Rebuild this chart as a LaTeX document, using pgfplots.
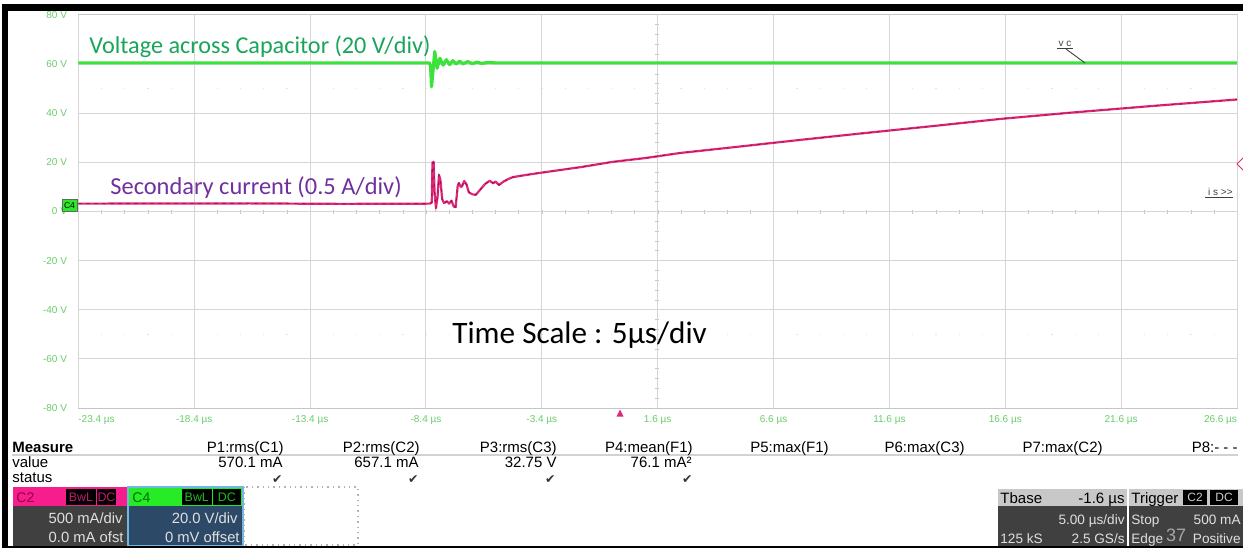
\documentclass[border=0pt]{standalone}
\usepackage{pgfplots}
\usepackage{pgfplotstable}
\pgfplotsset{compat=1.18}
\usepackage{fontspec}
\setmainfont{Liberation Sans}
\newfontfamily\calfont{Carlito}
\newfontfamily\djv{DejaVu Sans}
\definecolor{vgreen}{RGB}{60,225,60}
\definecolor{vtext}{RGB}{25,165,90}
\definecolor{itext}{RGB}{112,48,160}
\definecolor{ipink}{RGB}{222,40,120}
\definecolor{idark}{RGB}{130,10,55}
\definecolor{ticklab}{RGB}{105,205,105}
\definecolor{gridc}{RGB}{214,214,214}
\definecolor{c2pink}{RGB}{245,30,140}
\definecolor{c2dark}{RGB}{150,0,70}
\definecolor{c4green}{RGB}{40,235,40}
\definecolor{c4dark}{RGB}{0,110,0}
\definecolor{boxgray}{RGB}{64,64,64}
\definecolor{c4blue}{RGB}{44,74,104}
\definecolor{c4edge}{RGB}{110,185,225}
\definecolor{hdrgray}{RGB}{200,200,200}
\newcommand{\fs}[1]{\fontsize{#1}{#1}\selectfont}

\pgfplotstableread{
t v
-23.4 60.5
-8.25 60.5
-8.20 59.0
-8.16 50.8
-8.09 58.0
-8.02 65.1
-7.92 58.3
-7.80 62.4
-7.66 59.6
-7.52 61.8
-7.38 59.8
-7.24 61.4
-7.10 60.0
-6.95 61.2
-6.80 60.1
-6.60 61.0
-6.40 60.2
-6.20 60.8
-6.00 60.3
-5.70 60.7
-5.40 60.5
26.6 60.5
}\voltdata

\pgfplotstableread{
t i
-23.4 3.2
-16 3.3
-12 3.1
-8.25 3.2
-8.15 3.6
-8.12 20.0
-8.10 18.5
-8.07 20.3
-8.03 8.0
-7.97 1.4
-7.90 6.0
-7.84 14.9
-7.78 13.0
-7.70 5.0
-7.62 3.4
-7.50 4.2
-7.40 3.2
-7.30 4.4
-7.20 2.0
-7.12 1.8
-7.03 10.5
-6.98 11.6
-6.90 10.0
-6.85 10.2
-6.75 12.4
-6.65 11.0
-6.55 7.8
-6.40 7.0
-6.25 6.8
-6.05 9.0
-5.85 11.2
-5.65 12.5
-5.50 11.5
-5.40 12.2
-5.25 10.8
-5.05 12.2
-4.85 13.2
-4.65 14.0
-4.20 14.7
-3.50 15.7
-2.60 16.9
-1.70 18.1
-0.35 20.2
1.10 21.8
2.55 23.8
5.00 26.3
7.70 29.1
10.50 31.9
13.50 34.8
16.40 37.7
19.50 40.3
23.00 43.0
26.60 45.6
}\currdata

\begin{document}
\begin{tikzpicture}
\useasboundingbox (0,0) rectangle (621.5pt,-274pt);
\fill[white] (0,0) rectangle (621.5pt,-274pt);
\begin{scope}[x=0.5pt,y=-0.5pt]
  % graticule ticks on centre lines
  \foreach \k in {1,...,49} {
    \draw[gray!45, line width=0.4pt] ({78.4+\k*23.18},209.5) -- ({78.4+\k*23.18},213.5);
    \fill[gray!22] ({78.4+\k*23.18-0.6},88.2) rectangle ({78.4+\k*23.18+0.6},89.4);
    \fill[gray!22] ({78.4+\k*23.18-0.6},333.8) rectangle ({78.4+\k*23.18+0.6},335.0);
  }
  \foreach \k in {1,...,39} {
    \draw[gray!45, line width=0.4pt] (655,{15+\k*9.825}) -- (659,{15+\k*9.825});
  }
\end{scope}
\begin{axis}[
  at={(39.2pt,-204pt)}, anchor=south west, scale only axis,
  width=579.3pt, height=196.5pt,
  xmin=-23.4, xmax=26.6, ymin=-80, ymax=80,
  axis line style={draw=gray!45, line width=0.5pt},
  tick style={draw=none},
  grid=major, major grid style={gridc, line width=0.5pt},
  xtick={-18.4,-13.4,-8.4,-3.4,1.6,6.6,11.6,16.6,21.6},
  xticklabels={-18.4 µs,-13.4 µs,-8.4 µs,-3.4 µs,1.6 µs,6.6 µs,11.6 µs,16.6 µs,21.6 µs},
  extra x ticks={-23.4,26.6},
  extra x tick labels={\makebox[0pt][l]{-23.4 µs},\makebox[0pt][r]{26.6 µs}},
  ytick={-80,-60,-40,-20,0,20,40,60,80},
  yticklabels={-80 V,-60 V,-40 V,-20 V,0 V,20 V,40 V,60 V,80 V},
  /pgf/number format/assume math mode=true,
  ticklabel style={font=\fs{5pt}, text=ticklab, inner sep=0pt},
  xticklabel style={yshift=-3.5pt},
  yticklabel style={xshift=-5.5pt},
]
\addplot[vgreen, line width=1.6pt, line join=round] table[x=t,y=v] {\voltdata};
\addplot[ipink, line width=1.1pt, line join=round] table[x=t,y=i] {\currdata};
\addplot[idark, line width=0.45pt, dash pattern=on 1.5pt off 2.5pt, opacity=0.7] table[x=t,y=i] {\currdata};
\end{axis}
\begin{scope}[x=0.5pt,y=-0.5pt]
  % frame
  \fill[black] (2,4) rectangle (1243,11);
  \fill[black] (2,4) rectangle (8,548);
  \fill[black] (2,545.5) rectangle (1243,548);
  % annotations
  \node[anchor=base west, inner sep=0pt, text=vtext, font=\calfont\fs{12.1pt}] at (89,53) {Voltage across Capacitor (20 V/div)};
  \node[anchor=base west, inner sep=0pt, text=itext, font=\calfont\fs{12.2pt}] at (110,194) {Secondary current (0.5 A/div)};
  \node[anchor=base west, inner sep=0pt, text=black, font=\calfont\fs{15.6pt}] at (452,343) {Time Scale : 5µs/div};
  % trace labels
  \node[anchor=base, inner sep=0pt, text=gray!50!black, font=\fs{5pt}] at (1065,46) {v c};
  \draw[gray!50!black, line width=0.45pt] (1057,48.5) -- (1073,48.5);
  \draw[gray!50!black, line width=0.45pt] (1066,49) -- (1085,63);
  \node[anchor=base east, inner sep=0pt, text=gray!50!black, font=\fs{5pt}] at (1233,195) {i s {>}{>}};
  \draw[gray!50!black, line width=0.45pt] (1205,197.5) -- (1233,197.5);
  % markers
  \fill[ipink] (620,409.5) -- (616.5,416.5) -- (623.5,416.5) -- cycle;
  \draw[ipink, line width=0.5pt] (1243,158) -- (1237,164) -- (1243,170);
  \fill[c4green] (62,199) rectangle (77,211);
  \draw[black!60, line width=0.3pt] (62,199) rectangle (77,211);
  \node[inner sep=0pt, font=\fs{4.3pt}] at (69.5,205.5) {C4};
  % measure table
  \node[anchor=base west, inner sep=0pt, font=\bfseries\fs{7.5pt}] at (12,452) {Measure};
  \node[anchor=base west, inner sep=0pt, font=\fs{7.5pt}] at (12,467) {value};
  \node[anchor=base west, inner sep=0pt, font=\fs{7.5pt}] at (12,482) {status};
  \draw[gray!35, line width=0.6pt] (12,455) -- (1238,455);
  \foreach \xx/\tt in {284/P1:rms(C1),420/P2:rms(C2),557/P3:rms(C3),693/P4:mean(F1),829/P5:max(F1),965/P6:max(C3),1103/P7:max(C2),1238/P8:- - -}
    \node[anchor=base east, inner sep=0pt, font=\fs{7.5pt}] at (\xx,452) {\tt};
  \foreach \xx/\tt in {283/570.1 mA,419/657.1 mA,557/32.75 V,692/76.1 mA²}
    \node[anchor=base east, inner sep=0pt, font=\fs{7.5pt}] at (\xx,467) {\tt};
  \foreach \xx in {283,419,556,693}
    \node[anchor=base east, inner sep=0pt, text=black!80, font=\djv\fs{6.2pt}] at (\xx,483) {✔};
  % C2 box
  \fill[c2pink] (13,487) rectangle (127,506);
  \fill[boxgray] (13,506) rectangle (127,545.5);
  \fill[black] (66,489) rectangle (96,505);
  \fill[black] (97,489) rectangle (116,505);
  \node[anchor=base west, inner sep=0pt, text=c2dark, font=\fs{7pt}] at (16,502) {C2};
  \node[anchor=base, inner sep=0pt, text=c2pink!80!black, font=\fs{6.2pt}] at (81,501.5) {BwL};
  \node[anchor=base, inner sep=0pt, text=c2pink!80!black, font=\fs{6.2pt}] at (106.5,501.5) {DC};
  \node[anchor=base east, inner sep=0pt, text=white!88!black, font=\fs{7.4pt}] at (123,523) {500 mA/div};
  \node[anchor=base east, inner sep=0pt, text=white!88!black, font=\fs{7.4pt}] at (124,542) {0.0 mA ofst};
  % C4 box
  \fill[c4green] (128,487) rectangle (243,506);
  \fill[c4blue] (128,506) rectangle (243,545.5);
  \draw[c4edge, line width=0.6pt] (128,487) rectangle (243,545.5);
  \fill[black] (182,489) rectangle (211.5,505);
  \fill[black] (212.5,489) rectangle (241,505);
  \node[anchor=base west, inner sep=0pt, text=c4dark, font=\fs{7pt}] at (132,502) {C4};
  \node[anchor=base, inner sep=0pt, text=c4green!80!black, font=\fs{6.2pt}] at (196.8,501.5) {BwL};
  \node[anchor=base, inner sep=0pt, text=c4green!80!black, font=\fs{6.2pt}] at (226.8,501.5) {DC};
  \node[anchor=base east, inner sep=0pt, text=white!88!black, font=\fs{7.4pt}] at (238,523) {20.0 V/div};
  \node[anchor=base east, inner sep=0pt, text=white!88!black, font=\fs{7.4pt}] at (240,542) {0 mV offset};
  \draw[gray!60, dotted, line width=0.7pt] (244,487) rectangle (358,545);
  % Tbase box
  \fill[hdrgray] (998,489) rectangle (1127,506);
  \fill[boxgray] (998,506) rectangle (1127,545.5);
  \node[anchor=base west, inner sep=0pt, font=\fs{7.5pt}] at (1000,503) {Tbase};
  \node[anchor=base east, inner sep=0pt, font=\fs{7.5pt}] at (1125,503) {-1.6 µs};
  \node[anchor=base east, inner sep=0pt, text=white!88!black, font=\fs{6.8pt}] at (1125,524) {5.00 µs/div};
  \node[anchor=base west, inner sep=0pt, text=white!88!black, font=\fs{6.8pt}] at (1000,543) {125 kS};
  \node[anchor=base east, inner sep=0pt, text=white!88!black, font=\fs{6.8pt}] at (1125,543) {2.5 GS/s};
  % Trigger box
  \fill[hdrgray] (1129,489) rectangle (1243,506);
  \fill[boxgray] (1129,506) rectangle (1243,545.5);
  \fill[black] (1183,490) rectangle (1207,505);
  \fill[black] (1210,490) rectangle (1238,505);
  \node[anchor=base west, inner sep=0pt, font=\fs{7.5pt}] at (1131,503) {Trigger};
  \node[anchor=base, inner sep=0pt, text=white!80!black, font=\fs{6pt}] at (1195,501.5) {C2};
  \node[anchor=base, inner sep=0pt, text=white!80!black, font=\fs{6pt}] at (1224,501.5) {DC};
  \node[anchor=base, inner sep=0pt, text=gray!70, font=\fs{9pt}] at (1176,541) {37};
  \node[anchor=base west, inner sep=0pt, text=white!88!black, font=\fs{6.8pt}] at (1131,524) {Stop};
  \node[anchor=base east, inner sep=0pt, text=white!88!black, font=\fs{6.8pt}] at (1241,524) {500 mA};
  \node[anchor=base west, inner sep=0pt, text=white!88!black, font=\fs{6.8pt}] at (1131,543) {Edge};
  \node[anchor=base east, inner sep=0pt, text=white!88!black, font=\fs{6.8pt}] at (1241,543) {Positive};
\end{scope}
\end{tikzpicture}
\end{document}
